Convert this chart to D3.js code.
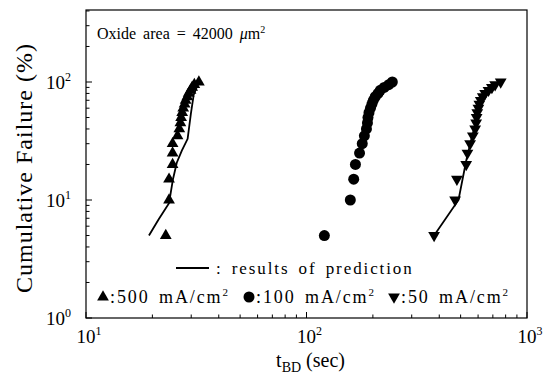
<!DOCTYPE html>
<html><head><meta charset="utf-8">
<script src="https://cdn.jsdelivr.net/npm/d3@7"></script>
<style>
html,body{margin:0;padding:0;background:#fff;}
svg text{font-family:"Liberation Serif","DejaVu Serif","Times New Roman",Times,serif;fill:#000;}
</style></head>
<body><svg id="c" width="544" height="375" font-family="Liberation Serif, DejaVu Serif, serif"></svg>
<script>
// Cumulative failure levels (%)
const failurePct = [5,10,15,20,25,30,35,40,45,50,55,60,65,70,75,80,85,90,95,100];
// t_BD (sec) for each stress current
const t500 = [23.0,23.8,23.8,24.7,24.7,24.7,26.0,26.5,26.8,27.0,27.3,27.6,28.0,28.3,28.8,29.2,29.8,30.3,31.0,32.5];
const t100 = [120.5,158,163.7,166.7,174,179,183,187,189,190,192,195,198,201,205,211,216,225,236,245];
const t50  = [379,472,481,530,537,552,568,582,588,591,595,602,608,617,630,646,669,693,717,760];
// prediction curves
const pred500_t = [19.3,21.4,23.8,24.8,25.8,27.2,28.9,29.9,30.8,32.5];
const pred500_F = [5,6.9,9.4,15,20.7,26.2,33,54,78,100];
const pred50_t = [379,489,530,560,585,600,625,660,720,770];
const pred50_F = [5,10,21.5,33,45,60,72,84,93,100];
// axes
const xDecades = [1,2,3];
const yDecades = [0,1,2];
const legendLabels = [":500 mA/cm", ":100 mA/cm", ":50 mA/cm"];

const svg = d3.select("#c");
const L=86, R=527, T=10, B=318;
const x = d3.scaleLog().domain([10,1000]).range([L,R]);
const y = d3.scaleLog().domain([1,Math.pow(10,(B-T)/118)]).range([B,T]);

function minorVals(lo,hi){const v=[];for(let e=lo;e<hi;e++)for(let m=1;m<10;m++)v.push(m*Math.pow(10,e));v.push(Math.pow(10,hi));return v;}
const xv = minorVals(1,3);
const yv = minorVals(0,2).concat([200,300,400].filter(d=>d<=y.domain()[1]));

// frame
svg.append("rect").attr("x",L).attr("y",T).attr("width",R-L).attr("height",B-T)
  .attr("fill","none").attr("stroke","#000").attr("stroke-width",1.2);

// ticks
const isMajor = d => Math.abs(Math.log10(d)-Math.round(Math.log10(d)))<1e-9;
svg.append("g").selectAll("line").data(xv).join("line")
  .attr("x1",d=>x(d)).attr("x2",d=>x(d)).attr("y1",B).attr("y2",d=>B-(isMajor(d)?6:3.5))
  .attr("stroke","#000").attr("stroke-width",1);
svg.append("g").selectAll("line").data(yv).join("line")
  .attr("y1",d=>y(d)).attr("y2",d=>y(d)).attr("x1",L).attr("x2",d=>L+(isMajor(d)?6:3.5))
  .attr("stroke","#000").attr("stroke-width",1);

// tick labels
const xl = svg.append("g").selectAll("text").data(xDecades).join("text")
  .attr("x",d=>x(Math.pow(10,d))+3).attr("y",B+25).attr("text-anchor","middle").attr("font-size",19);
xl.append("tspan").text("10");
xl.append("tspan").attr("dy",-8).attr("font-size",12).text(d=>d);
const yl = svg.append("g").selectAll("text").data(yDecades).join("text")
  .attr("x",L-15).attr("y",d=>y(Math.pow(10,d))+7).attr("text-anchor","end").attr("font-size",19);
yl.append("tspan").text("10");
yl.append("tspan").attr("dy",-8).attr("font-size",12).text(d=>d);

// axis titles
const xt = svg.append("text").attr("x",(L+R)/2+4).attr("y",367).attr("text-anchor","middle").attr("font-size",20);
xt.append("tspan").text("t");
xt.append("tspan").attr("dy",5).attr("font-size",14).text("BD");
xt.append("tspan").attr("dy",-5).text(" (sec)");
svg.append("text").attr("transform","translate(32,"+((T+B)/2+4)+") rotate(-90)")
  .attr("text-anchor","middle").attr("font-size",24).attr("letter-spacing",1).text("Cumulative Failure (%)");

// annotation
const ann = svg.append("text").attr("x",97).attr("y",39).attr("font-size",16).attr("word-spacing",3);
ann.append("tspan").text("Oxide area = 42000 ");
ann.append("tspan").attr("font-style","italic").text("\u03bc");
ann.append("tspan").text("m");
ann.append("tspan").attr("dy",-6).attr("font-size",10).text("2");

// prediction lines
const line = d3.line().x(d=>x(d[0])).y(d=>y(d[1]));
svg.append("path").datum(d3.zip(pred500_t,pred500_F)).attr("d",line).attr("fill","none").attr("stroke","#000").attr("stroke-width",1.8);
svg.append("path").datum(d3.zip(pred50_t,pred50_F)).attr("d",line).attr("fill","none").attr("stroke","#000").attr("stroke-width",1.8);

// markers
const triUp = d3.symbol().type(d3.symbolTriangle).size(60)();
svg.append("g").selectAll("path").data(d3.zip(t500,failurePct)).join("path")
  .attr("d",triUp).attr("transform",d=>`translate(${x(d[0])},${y(d[1])})`).attr("fill","#000");
svg.append("g").selectAll("circle").data(d3.zip(t100,failurePct)).join("circle")
  .attr("cx",d=>x(d[0])).attr("cy",d=>y(d[1])).attr("r",5.5).attr("fill","#000");
svg.append("g").selectAll("path").data(d3.zip(t50,failurePct)).join("path")
  .attr("d",triUp).attr("transform",d=>`translate(${x(d[0])},${y(d[1])}) rotate(180)`).attr("fill","#000");

// legend
svg.append("line").attr("x1",176).attr("x2",209).attr("y1",268).attr("y2",268).attr("stroke","#000").attr("stroke-width",1.8);
svg.append("text").attr("x",216).attr("y",274).attr("font-size",17).attr("letter-spacing",1.9).attr("word-spacing",3).text(": results of prediction");
const legX = [103,249,394];
svg.append("path").attr("d",triUp).attr("transform",`translate(${legX[0]},297)`);
svg.append("circle").attr("cx",legX[1]).attr("cy",297).attr("r",5.5);
svg.append("path").attr("d",triUp).attr("transform",`translate(${legX[2]},297) rotate(180)`);
legendLabels.forEach((s,i)=>{
  const t = svg.append("text").attr("x",legX[i]+7).attr("y",303).attr("font-size",18).attr("letter-spacing",1.9).attr("word-spacing",3);
  t.append("tspan").text(s);
  t.append("tspan").attr("dy",-7).attr("font-size",11).text("2");
});
</script></body></html>
